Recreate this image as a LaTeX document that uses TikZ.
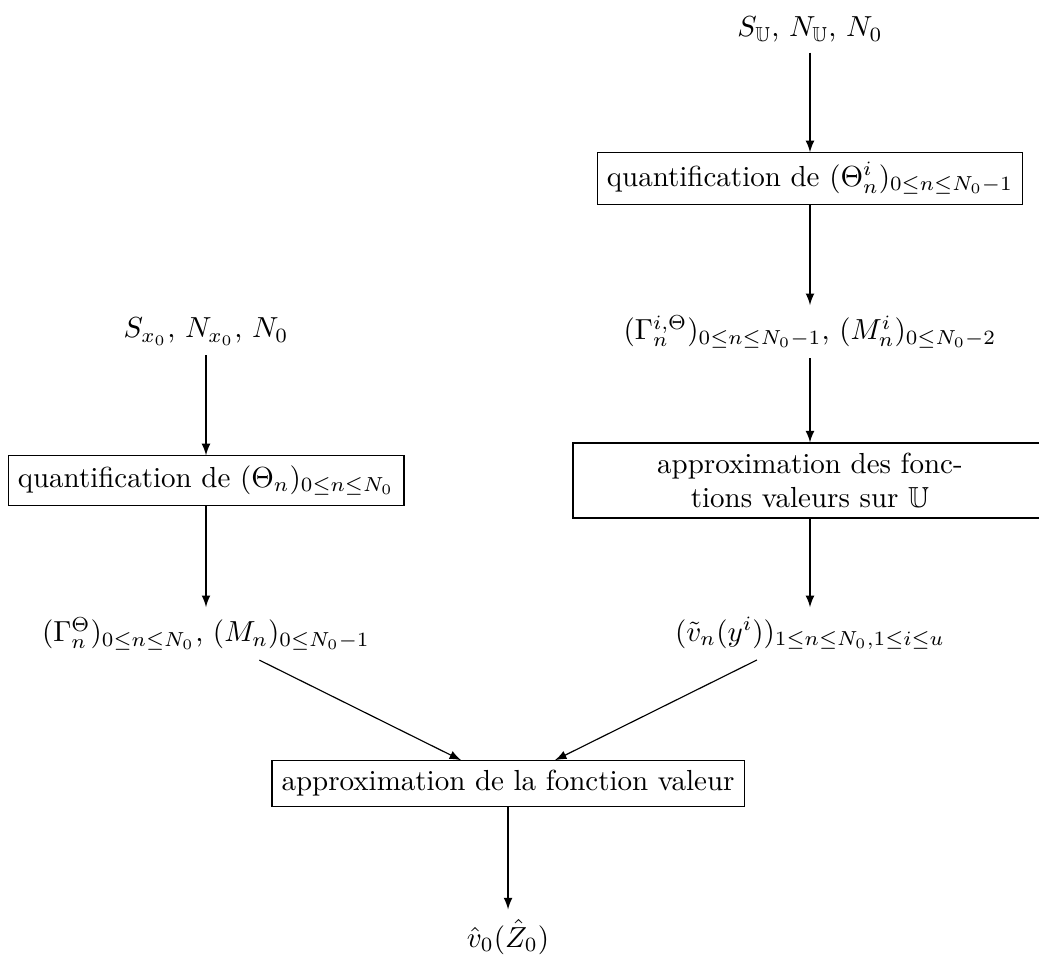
\documentclass[tikz,border=0pt]{standalone}
\usepackage{amsmath,amssymb}
\usepackage{tikz}

\begin{document}
\begin{tikzpicture}[>=latex,boite/.style={draw,rectangle}]
        \useasboundingbox (0,0) rectangle (12.594,-11.576);
        % branche de droite
        \node(SU) at (9.818,-0.36) {$S_{\mathbb{U}}$, $N_{\mathbb{U}}$, $N_0$};
        \node[boite](QU) at (9.818,-2.164) {quantification de $(\Theta^i_n)_{0\leq n\leq N_0-1}$};
        \node(GU) at (9.818,-4.02) {$(\Gamma^{i,\Theta}_n)_{0\leq n\leq N_0-1}$, $(M^i_n)_{0\leq N_0-2}$};
        \node[boite,text width=5.51cm,align=center](AU) at (9.818,-5.824) {approximation des fonc-\\tions valeurs sur $\mathbb{U}$};
        \node(VU) at (9.818,-7.68) {$(\tilde{v}_n(y^i))_{1\leq n\leq N_0,1\leq i\leq u}$};
        % branche de gauche
        \node(SX) at (2.497,-4.02) {$S_{x_0}$, $N_{x_0}$, $N_0$};
        \node[boite](QX) at (2.497,-5.824) {quantification de $(\Theta_n)_{0\leq n\leq N_0}$};
        \node(GX) at (2.497,-7.68) {$(\Gamma^{\Theta}_n)_{0\leq n\leq N_0}$, $(M_n)_{0\leq N_0-1}$};
        % fonction valeur
        \node[boite](AV) at (6.158,-9.497) {approximation de la fonction valeur};
        \node(V0) at (6.158,-11.358) {$\hat{v}_0(\hat{Z}_0)$};
        \draw[->] (SU)--(QU);
        \draw[->] (QU)--(GU);
        \draw[->] (GU)--(AU);
        \draw[->] (AU)--(VU);
        \draw[->] (SX)--(QX);
        \draw[->] (QX)--(GX);
        \draw[->] (GX)--(AV);
        \draw[->] (VU)--(AV);
        \draw[->] (AV)--(V0);
    \end{tikzpicture}
\end{document}
